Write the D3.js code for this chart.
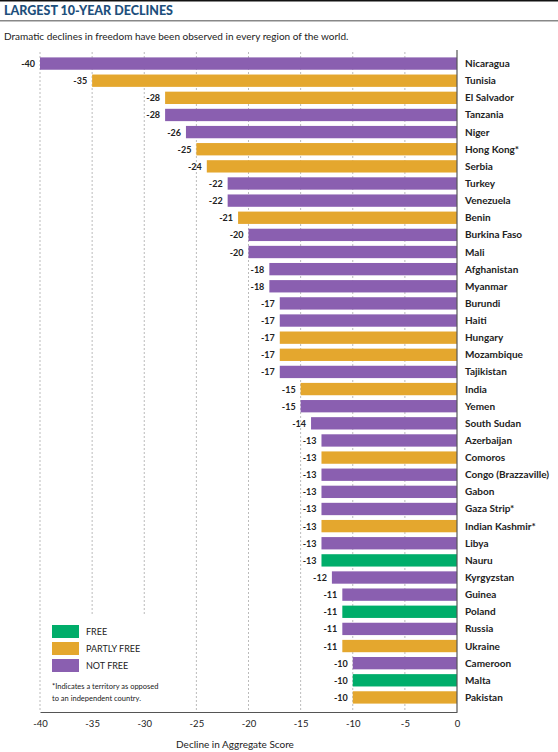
<!DOCTYPE html>
<html><head><meta charset="utf-8">
<script src="https://cdn.jsdelivr.net/npm/d3@7"></script>
<style>body{margin:0;background:#fff}text{font-family:Lato,"Open Sans",sans-serif}</style>
</head><body><svg id="c" width="558" height="752"></svg>
<script>
const countries = ["Nicaragua","Tunisia","El Salvador","Tanzania","Niger","Hong Kong*","Serbia","Turkey","Venezuela","Benin","Burkina Faso","Mali","Afghanistan","Myanmar","Burundi","Haiti","Hungary","Mozambique","Tajikistan","India","Yemen","South Sudan","Azerbaijan","Comoros","Congo (Brazzaville)","Gabon","Gaza Strip*","Indian Kashmir*","Libya","Nauru","Kyrgyzstan","Guinea","Poland","Russia","Ukraine","Cameroon","Malta","Pakistan"];
const declines = [-40,-35,-28,-28,-26,-25,-24,-22,-22,-21,-20,-20,-18,-18,-17,-17,-17,-17,-17,-15,-15,-14,-13,-13,-13,-13,-13,-13,-13,-13,-12,-11,-11,-11,-11,-10,-10,-10];
const status = ["NF","PF","PF","NF","NF","PF","PF","NF","NF","PF","NF","NF","NF","NF","NF","NF","PF","PF","NF","PF","NF","NF","NF","PF","NF","NF","NF","PF","NF","F","NF","NF","F","NF","PF","NF","F","PF"];
const statusKeys = ["F","PF","NF"];
const statusLabels = ["FREE","PARTLY FREE","NOT FREE"];
const xTicks = [-40,-35,-30,-25,-20,-15,-10,-5,0];

const color = d3.scaleOrdinal().domain(statusKeys).range(["#00ad6a","#e4a72e","#8a5fb0"]);
const svg = d3.select("#c");
const x = d3.scaleLinear().domain([-40,0]).range([40,457]);
const y = d3.scaleBand().domain(countries).range([55,706]).paddingInner(0.28).paddingOuter(0.14);

svg.append("rect").attr("width",558).attr("height",1.5).attr("fill","#111");
svg.append("text").attr("x",4).attr("y",15).attr("font-size",12.5).attr("font-weight","900").attr("fill","#1d4f7c").text("LARGEST 10-YEAR DECLINES");
svg.append("rect").attr("x",0).attr("y",20).attr("width",558).attr("height",1.5).attr("fill","#888");
svg.append("text").attr("x",4).attr("y",40).attr("font-size",10).attr("fill","#222").text("Dramatic declines in freedom have been observed in every region of the world.");

svg.append("g").selectAll("line").data(xTicks.slice(0,-1)).join("line")
  .attr("x1",d=>x(d)).attr("x2",d=>x(d)).attr("y1",52).attr("y2",712)
  .attr("stroke","#bbb").attr("stroke-dasharray","2,2");

// legend box covering gridlines
svg.append("rect").attr("x",44).attr("y",614).attr("width",130).attr("height",96).attr("fill","#fff");

const row = svg.append("g").selectAll("g").data(countries).join("g");
row.append("rect").attr("x",(d,i)=>x(declines[i])).attr("y",d=>y(d))
  .attr("width",(d,i)=>x(0)-x(declines[i])).attr("height",y.bandwidth())
  .attr("fill",(d,i)=>color(status[i]));
row.append("text").attr("x",(d,i)=>x(declines[i])-5).attr("y",d=>y(d)+y.bandwidth()/2+3.5)
  .attr("text-anchor","end").attr("font-size",9).attr("font-weight","bold").attr("fill","#222")
  .text((d,i)=>"-"+Math.abs(declines[i]));
row.append("text").attr("x",465).attr("y",d=>y(d)+y.bandwidth()/2+3.5)
  .attr("font-size",10).attr("font-weight","bold").attr("fill","#222").text(d=>d);

svg.append("line").attr("x1",x(0)).attr("x2",x(0)).attr("y1",50).attr("y2",712).attr("stroke","#555").attr("stroke-width",1.2);

const ax = svg.append("g").attr("transform","translate(0,712)")
  .call(d3.axisBottom(x).tickValues(xTicks).tickSize(0).tickPadding(8).tickFormat(d=>d===0?"0":"-"+Math.abs(d)));
ax.select(".domain").attr("stroke","#555").attr("stroke-width",1.2);
ax.selectAll("text").attr("font-size",9.5).attr("fill","#222").attr("font-family","Lato,sans-serif");
svg.append("text").attr("x",235).attr("y",748).attr("text-anchor","middle").attr("font-size",10).attr("fill","#222").text("Decline in Aggregate Score");

const lg = svg.append("g").selectAll("g").data(statusKeys).join("g")
  .attr("transform",(d,i)=>`translate(52,${625+i*17})`);
lg.append("rect").attr("width",27).attr("height",13).attr("fill",d=>color(d));
lg.append("text").attr("x",34).attr("y",10).attr("font-size",9).attr("fill","#222").text((d,i)=>statusLabels[i]);
svg.append("text").attr("x",52).attr("y",689).attr("font-size",7.5).attr("fill","#222").text("*Indicates a territory as opposed");
svg.append("text").attr("x",52).attr("y",701).attr("font-size",7.5).attr("fill","#222").text("to an independent country.");
</script></body></html>
